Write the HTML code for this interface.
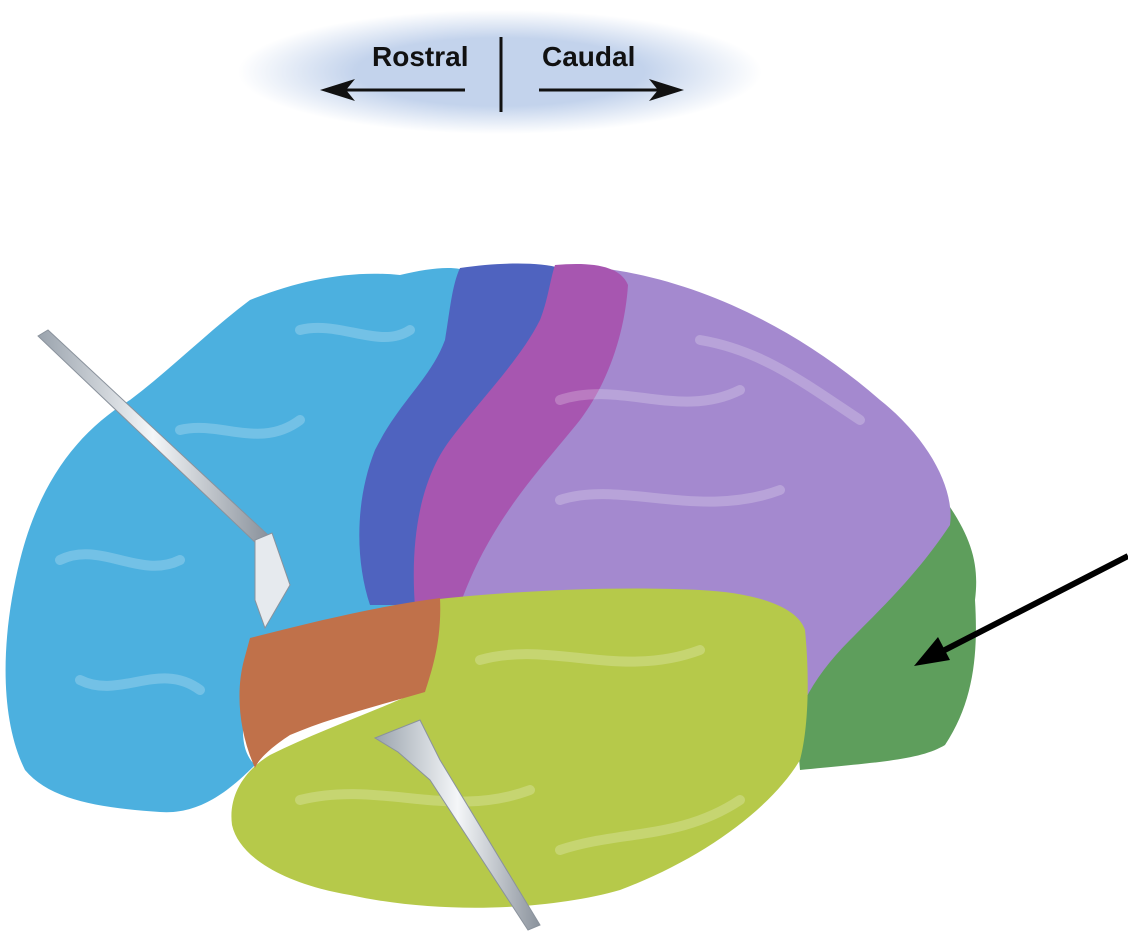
<!DOCTYPE html>
<html><head><style>html,body{margin:0;padding:0;background:#fff}svg{display:block}</style></head>
<body>
<svg width="1128" height="951" viewBox="0 0 1128 951" xmlns="http://www.w3.org/2000/svg">
<defs>
<radialGradient id="halo" cx="0.5" cy="0.5" r="0.5"><stop offset="0.55" stop-color="#c3d3ec"/><stop offset="1" stop-color="#fff"/></radialGradient>
<linearGradient id="metal" x1="0" y1="0" x2="1" y2="0"><stop offset="0" stop-color="#9aa3ad"/><stop offset="0.5" stop-color="#f4f6f8"/><stop offset="1" stop-color="#8a929c"/></linearGradient>
</defs>
<ellipse cx="500" cy="72" rx="262" ry="62" fill="url(#halo)"/>
<text x="372" y="66" font-family="Liberation Sans, sans-serif" font-weight="bold" font-size="28" fill="#111">Rostral</text>
<text x="542" y="66" font-family="Liberation Sans, sans-serif" font-weight="bold" font-size="28" fill="#111">Caudal</text>
<line x1="501" y1="37" x2="501" y2="112" stroke="#111" stroke-width="3"/>
<line x1="465" y1="90" x2="335" y2="90" stroke="#111" stroke-width="3"/>
<polygon points="320,90 355,79 346,90 355,101" fill="#111"/>
<line x1="539" y1="90" x2="670" y2="90" stroke="#111" stroke-width="3"/>
<polygon points="684,90 649,79 658,90 649,101" fill="#111"/>

<!-- green occipital (extended under purple) -->
<path d="M930,480 C970,530 980,560 975,600 C978,650 975,700 945,745 C920,760 880,762 800,770 L790,650 C830,600 880,540 930,480Z" fill="#5e9e5c"/>
<!-- purple parietal (extended) -->
<path d="M600,268 C700,280 800,330 880,400 C930,440 955,490 950,525 C920,570 890,600 850,640 C830,660 815,680 805,700 L790,650 C760,600 700,590 420,615 C430,500 500,380 600,268Z" fill="#a489cf"/>
<!-- light blue frontal (extended) -->
<path d="M470,272 C470,350 420,450 420,660 L300,670 C270,690 250,700 245,710 C240,740 245,755 255,765 C230,790 200,815 160,812 C100,808 50,800 25,770 C0,720 0,640 20,560 C40,480 80,430 130,400 C170,370 210,330 250,300 C300,280 350,270 400,275 C430,268 455,265 470,272Z" fill="#4cb0df"/>
<!-- dark blue -->
<path d="M460,268 C500,262 540,262 560,268 C556,300 545,330 520,360 C480,410 440,450 425,500 C418,540 425,570 420,605 L370,605 C355,560 355,500 375,450 C400,400 430,380 445,340 C450,310 452,285 460,268Z" fill="#4f63bf"/>
<!-- magenta -->
<path d="M555,265 C590,262 620,265 628,285 C625,330 610,380 580,420 C540,470 490,520 460,605 L415,607 C410,540 420,480 450,440 C480,400 520,360 540,320 C548,300 550,280 555,265Z" fill="#a756b0"/>
<!-- temporal -->
<path d="M430,600 C520,590 620,586 700,590 C760,593 798,608 805,630 C810,680 808,730 800,760 C770,810 700,860 620,890 C550,910 440,915 350,895 C290,885 240,860 232,825 C228,795 245,770 270,755 C320,730 380,710 420,690 C430,660 432,630 430,600Z" fill="#b6c94a"/>
<!-- orange insula -->
<path d="M250,638 C320,620 380,606 440,598 C442,640 432,670 425,692 C380,705 330,718 290,735 C270,748 258,760 255,768 C238,730 236,690 244,660Z" fill="#c0714a"/>
<!-- gyri hints -->
<g fill="none" stroke="#fff" stroke-opacity="0.22" stroke-width="10" stroke-linecap="round">
<path d="M60,560 C100,540 140,580 180,560"/><path d="M80,680 C120,700 160,660 200,690"/><path d="M180,430 C220,420 260,450 300,420"/><path d="M300,330 C340,320 380,350 410,330"/>
<path d="M560,400 C620,380 680,420 740,390"/><path d="M560,500 C620,480 700,520 780,490"/><path d="M700,340 C760,350 800,380 860,420"/>
<path d="M300,800 C380,780 450,820 530,790"/><path d="M480,660 C550,640 620,680 700,650"/><path d="M560,850 C620,830 680,840 740,800"/>
</g>
<!-- retractors -->
<path d="M38,336 L48,330 L268,535 L258,545Z" fill="url(#metal)" stroke="#8a929c"/>
<path d="M255,540 L272,533 L290,585 L265,628 L255,600Z" fill="#e6eaee" stroke="#8a929c"/>
<path d="M375,738 L420,720 L440,760 L540,925 L528,930 L430,780 L398,752Z" fill="url(#metal)" stroke="#8a929c"/>
<!-- black arrow -->
<line x1="1128" y1="556" x2="935" y2="655" stroke="#000" stroke-width="6"/>
<polygon points="914,666 938,637 950,660" fill="#000"/>
</svg>
</body></html>
